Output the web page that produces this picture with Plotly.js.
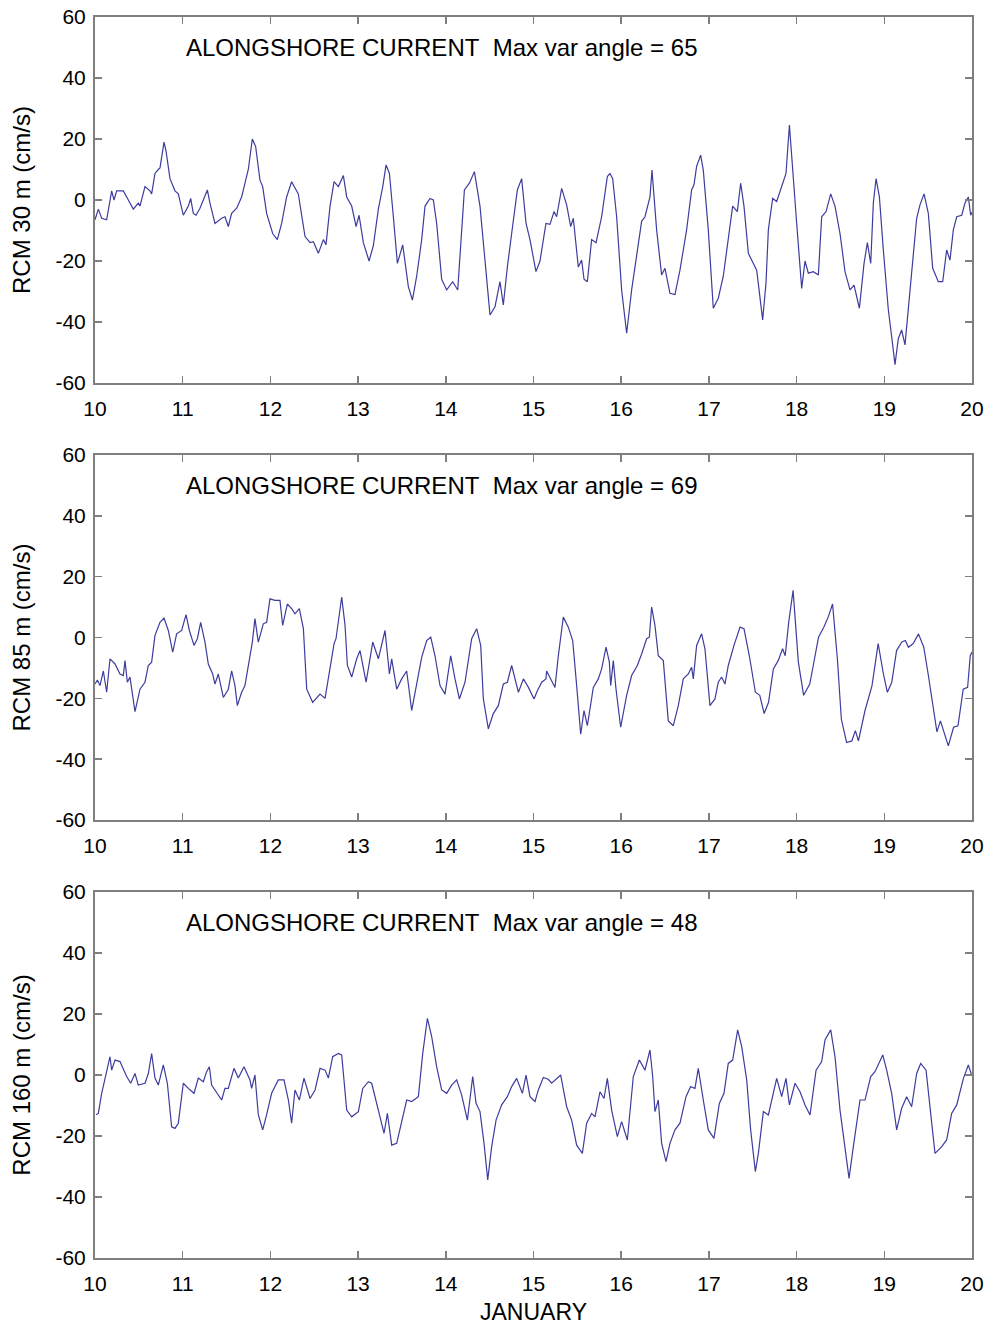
<!DOCTYPE html>
<html><head><meta charset="utf-8">
<script src="https://cdn.plot.ly/plotly-3.0.1.min.js"></script>
<style>body{margin:0;background:#fff}#chart{width:990px;height:1328px}</style>
</head><body><div id="chart"></div>
<script>
// Panel 1: RCM 30 m
const t1 = [10.00,10.038,10.076,10.133,10.19,10.217,10.247,10.323,10.38,10.437,10.494,10.513,10.57,10.627,10.646,10.684,10.722,10.741,10.787,10.81,10.855,10.912,10.95,11.007,11.064,11.091,11.121,11.152,11.197,11.281,11.311,11.368,11.444,11.482,11.52,11.558,11.615,11.672,11.71,11.748,11.794,11.832,11.881,11.912,11.957,12.026,12.079,12.128,12.185,12.242,12.318,12.395,12.452,12.49,12.547,12.604,12.634,12.68,12.726,12.775,12.832,12.87,12.927,12.977,13.011,13.06,13.125,13.174,13.231,13.281,13.319,13.357,13.402,13.448,13.509,13.535,13.573,13.619,13.668,13.725,13.763,13.82,13.858,13.896,13.953,14.01,14.079,14.136,14.212,14.269,14.326,14.39,14.447,14.504,14.561,14.618,14.656,14.702,14.751,14.816,14.865,14.915,14.96,15.028,15.074,15.142,15.188,15.234,15.264,15.321,15.378,15.424,15.454,15.511,15.549,15.576,15.614,15.663,15.713,15.777,15.842,15.872,15.903,15.948,16.005,16.062,16.119,16.184,16.233,16.271,16.328,16.351,16.374,16.404,16.461,16.499,16.556,16.613,16.67,16.746,16.803,16.83,16.86,16.906,16.936,16.993,17.05,17.107,17.164,17.221,17.271,17.324,17.362,17.40,17.45,17.507,17.545,17.613,17.651,17.678,17.727,17.773,17.83,17.879,17.918,17.956,18.001,18.058,18.096,18.134,18.191,18.248,18.286,18.336,18.389,18.438,18.495,18.552,18.609,18.655,18.716,18.769,18.807,18.845,18.875,18.906,18.944,18.989,19.046,19.084,19.122,19.16,19.198,19.236,19.293,19.331,19.369,19.407,19.453,19.502,19.552,19.616,19.666,19.711,19.749,19.787,19.826,19.883,19.92,19.958,19.985,20.0];
const v1 = [-6.5,-3,-6,-6.5,3,0,3,3,0,-3,-1,-2,4.4,3,2,8.7,10,10.5,19,16,7,3,2,-5,-2,0.5,-4.4,-5,-2.7,3.3,-1,-7.7,-6,-5.5,-8.7,-4.4,-2.7,1,5.5,10,20,17.5,6.5,4.4,-4.4,-11,-13,-7.7,1,6,2,-12,-14,-13.7,-17.5,-13,-14.7,-2,6,4.4,8,1,-2,-8.7,-5,-14,-20,-15,-3,4.4,11.5,8.7,-5.5,-20.8,-14.7,-20.8,-28.4,-32.8,-25,-13,-2,0.5,0,-7.7,-26,-29.5,-26.8,-29.5,3.3,5.5,9.3,-2,-18.6,-37.7,-35,-26.8,-34.4,-21.9,-11,3.3,7,-7.7,-13,-23.5,-20,-7.7,-8,-3.8,-5.5,3.8,-1.6,-8.7,-6,-22,-19.7,-26,-26.8,-13,-14,-5.5,7.7,8.7,7,-5.5,-29.5,-43.7,-29.5,-17,-7,-5.5,1,9.8,2,-9.8,-24.6,-22.4,-30.6,-31,-23,-9.8,3.3,5,11,14.7,9.8,-9.8,-35.5,-32.2,-25,-12,-2,-3.8,5.5,-2,-17.5,-20.8,-23,-39.3,-27.3,-9.8,0.5,-0.5,4.4,8.7,24.6,11,-7.7,-29,-20,-24,-23.5,-24.6,-5.5,-3.8,2,-2,-11,-23.5,-29.5,-27.9,-35.5,-20.8,-14,-20.8,-1,7,1,-16.4,-36,-44.8,-54,-45.4,-42.6,-47.5,-29.5,-16.4,-6,-1.6,2,-4.4,-22.4,-26.8,-26.8,-16.4,-19.7,-9.8,-5.5,-5,-1,1,-5,-4];

// Panel 2: RCM 85 m
const t2 = [10.0,10.027,10.057,10.095,10.133,10.171,10.228,10.285,10.323,10.342,10.369,10.399,10.456,10.513,10.57,10.608,10.646,10.684,10.741,10.787,10.836,10.886,10.931,10.988,11.038,11.076,11.129,11.167,11.205,11.254,11.292,11.342,11.368,11.406,11.463,11.52,11.558,11.596,11.623,11.672,11.71,11.729,11.767,11.794,11.824,11.862,11.919,11.957,11.995,12.052,12.109,12.14,12.193,12.242,12.28,12.33,12.376,12.414,12.482,12.566,12.623,12.68,12.726,12.748,12.813,12.851,12.878,12.927,12.984,13.022,13.091,13.167,13.231,13.307,13.357,13.383,13.44,13.497,13.554,13.611,13.668,13.725,13.782,13.828,13.877,13.934,13.991,14.056,14.105,14.155,14.219,14.295,14.352,14.398,14.428,14.485,14.542,14.599,14.656,14.702,14.751,14.828,14.885,14.942,15.006,15.044,15.093,15.142,15.15,15.188,15.245,15.283,15.34,15.397,15.447,15.492,15.538,15.576,15.614,15.682,15.739,15.777,15.827,15.865,15.88,15.91,15.941,15.994,16.062,16.119,16.184,16.233,16.29,16.321,16.347,16.385,16.423,16.48,16.537,16.594,16.651,16.708,16.765,16.803,16.822,16.86,16.917,16.955,17.012,17.069,17.107,17.145,17.183,17.221,17.286,17.355,17.40,17.461,17.53,17.58,17.63,17.68,17.735,17.79,17.84,17.87,17.91,17.96,17.98,18.02,18.08,18.15,18.19,18.25,18.31,18.36,18.41,18.465,18.51,18.57,18.63,18.67,18.705,18.78,18.86,18.89,18.93,18.99,19.035,19.085,19.14,19.20,19.24,19.275,19.33,19.39,19.45,19.50,19.55,19.60,19.64,19.68,19.73,19.79,19.84,19.90,19.95,19.98,20.0];
const v2 = [-15.3,-14,-15.8,-11,-18,-7,-8.7,-12,-12.5,-7.6,-14.7,-13,-24.4,-17,-14.7,-9.2,-8.1,0.7,5,6.4,2.3,-4.8,1.2,2.3,7.5,2.3,-2.6,-0.4,5,-1.5,-8.7,-12,-15.3,-12,-19.7,-17,-11,-15.8,-22.4,-18,-15.8,-12.5,-7,-1.5,6.2,-1.5,4.5,5,12.7,12.2,12.2,4,11,9.5,7.8,9.5,2.9,-17,-21.3,-18.6,-20,-10,-2,-0.4,13.3,4,-9.2,-13,-7,-4.3,-14.7,-1.5,-7,2.3,-12,-7,-17,-13.6,-11,-24,-15.8,-6.5,-1,0.1,-6,-15.8,-18.6,-6,-13.6,-20.2,-14.7,-0.4,2.9,-2.6,-20.2,-30,-25,-22.4,-15.3,-14.7,-9.2,-18,-13.6,-16.4,-20.2,-17.5,-14.7,-13.6,-11,-13,-16.4,-6,6.7,3.4,-1,-15.8,-31.8,-24,-29,-16.4,-13.6,-10.3,-3.2,-8.1,-15.8,-7.6,-17,-29.5,-19,-12.5,-9.2,-5.4,-0.4,0.1,10,4,-6,-7.6,-27.4,-29,-22.4,-13.6,-12,-9.8,-13.6,-2.6,1.2,-3.7,-22.4,-20.2,-14.7,-13,-15.3,-9.2,-2.6,3.4,2.9,-6,-18,-19,-25,-21.3,-10.3,-7.6,-3.7,-6,5,15.5,8.4,-8.1,-19,-15.3,-9.2,0.1,3.4,6.7,11,-7,-26.8,-34.5,-34,-30.6,-34,-24,-15.8,-9.2,-2,-12,-18,-14.7,-4.3,-1.5,-1,-3.2,-2,1.2,-3.2,-12,-22.4,-31,-27.4,-31,-35.6,-29.5,-29,-17,-16.4,-6,-4.8];

// Panel 3: RCM 160 m
const t3 = [10.011,10.038,10.076,10.133,10.171,10.19,10.228,10.285,10.361,10.407,10.456,10.494,10.57,10.608,10.646,10.684,10.722,10.779,10.825,10.874,10.912,10.95,11.007,11.064,11.129,11.178,11.235,11.273,11.304,11.33,11.368,11.444,11.482,11.52,11.585,11.634,11.699,11.767,11.786,11.824,11.862,11.912,11.957,12.014,12.09,12.155,12.205,12.242,12.28,12.33,12.383,12.452,12.509,12.566,12.623,12.661,12.71,12.775,12.813,12.87,12.927,13.003,13.053,13.117,13.155,13.212,13.269,13.296,13.334,13.383,13.44,13.497,13.554,13.611,13.687,13.737,13.79,13.839,13.896,13.953,14.01,14.067,14.124,14.181,14.246,14.307,14.345,14.39,14.436,14.478,14.523,14.573,14.637,14.702,14.751,14.808,14.873,14.915,14.96,15.017,15.055,15.112,15.169,15.207,15.264,15.31,15.378,15.435,15.492,15.557,15.606,15.663,15.701,15.758,15.804,15.842,15.891,15.956,16.005,16.07,16.138,16.207,16.271,16.328,16.359,16.385,16.423,16.461,16.511,16.556,16.613,16.67,16.739,16.792,16.841,16.879,16.936,16.993,17.058,17.119,17.172,17.221,17.271,17.328,17.374,17.431,17.476,17.53,17.564,17.621,17.678,17.716,17.773,17.83,17.879,17.918,17.982,18.039,18.096,18.153,18.222,18.286,18.324,18.389,18.438,18.495,18.552,18.598,18.647,18.723,18.78,18.845,18.894,18.982,19.027,19.084,19.141,19.198,19.255,19.312,19.369,19.415,19.476,19.521,19.578,19.655,19.711,19.768,19.826,19.902,19.958,19.996];
const v3 = [-13,-12.6,-6,1.6,6,1.6,4.9,4.4,-0.5,-2.7,0.5,-3.3,-2.7,0.5,7,-1,-3.3,3.3,-2.7,-17,-17.5,-15.8,-2.7,-4.4,-6,-1,-2.2,1.1,2.7,-3.3,-4.9,-8.2,-4.4,-4.4,2.2,-1,2.7,-1.6,-4.4,0,-13,-18,-13,-6,-1.6,-1.6,-8.2,-15.8,-4.9,-8.2,-1,-7.7,-4.9,2.2,1.6,-1,6,7.1,6.6,-11.5,-13.7,-12,-4.4,-2.2,-2.7,-9.3,-15.3,-19.1,-12.6,-23,-22.4,-15.3,-8.2,-8.7,-7.1,7.1,18.6,12.6,2.7,-4.9,-6,-3.3,-1.6,-6.6,-14.8,-0.5,-9.3,-12,-22.4,-34.4,-23.5,-14.8,-9.8,-7.1,-3.8,-1.1,-6,0,-7.1,-8.7,-4.9,-0.8,-1.4,-2.7,-1.1,0,-10.4,-14.8,-23,-25.7,-15.8,-12.6,-13.7,-5.5,-7.7,-1.1,-11.5,-20.2,-15.3,-21.3,-0.5,4.9,1.6,8.2,-0.5,-12,-8.2,-22.4,-28.4,-22.4,-18,-15.8,-7.1,-3.8,-4.4,2.2,-8.2,-18,-20.8,-9.3,-6,3.8,4.9,14.8,9.3,-1.6,-18,-31.7,-25.7,-12,-13.1,-8.2,-1.1,-7.1,-1.1,-9.8,-2.7,-5.5,-9.8,-13.1,1.6,4.4,11.5,14.8,6,-11.5,-24.6,-33.9,-23.5,-8.2,-8.2,-0.5,1.1,6.6,1.6,-6,-18,-10.9,-7.1,-10.4,0.5,3.8,1.6,-10.4,-25.7,-23.5,-21.3,-12.6,-9.8,-1.1,3.3,0];

const yTitles = ['RCM 30 m (cm/s)', 'RCM 85 m (cm/s)', 'RCM 160 m (cm/s)'];
const angles = [65, 69, 48];
const xTicks = [10,11,12,13,14,15,16,17,18,19,20];
const yTicks = [-60,-40,-20,0,20,40,60];

const FONT = 'Arial, "Liberation Sans", sans-serif';
const lineColor = '#3d3d9e';
const axisColor = '#7f7f7f';

const series = [[t1,v1],[t2,v2],[t3,v3]];
const traces = series.map((s,i)=>({
  x: s[0], y: s[1], type:'scatter', mode:'lines',
  line:{color:lineColor, width:1.2},
  xaxis: i===0?'x':'x'+(i+1), yaxis: i===0?'y':'y'+(i+1),
  showlegend:false, hoverinfo:'skip'
}));

const domains = [[0.7051,1.0],[0.3529,0.6471],[0.0,0.2949]];
const layout = {
  width:990, height:1328,
  margin:{l:95, r:18, t:17, b:70},
  paper_bgcolor:'#fff', plot_bgcolor:'#fff',
  font:{family:FONT, size:20, color:'#000'},
  annotations:[]
};
for (let i=0;i<3;i++){
  const sx = i===0?'':String(i+1);
  layout['xaxis'+sx] = {
    domain:[0,1], anchor:'y'+sx, range:[10,20],
    tickvals:xTicks, ticktext:xTicks.map(String),
    ticks:'inside', ticklen:7, tickcolor:axisColor, tickwidth:1.5,
    showline:true, linecolor:axisColor, linewidth:2, mirror:'ticks',
    showgrid:false, zeroline:false, ticklabelstandoff:6,
    tickfont:{family:FONT, size:21, color:'#000'},
    title: i===2 ? {text:'JANUARY', font:{family:FONT, size:23, color:'#000'}, standoff:10} : {text:''}
  };
  layout['yaxis'+sx] = {
    domain:domains[i], anchor:'x'+sx, range:[-60,60],
    tickvals:yTicks, ticktext:yTicks.map(String),
    ticks:'inside', ticklen:7, tickcolor:axisColor, tickwidth:1.5,
    showline:true, linecolor:axisColor, linewidth:2, mirror:'ticks',
    showgrid:false, zeroline:false, ticklabelstandoff:3,
    tickfont:{family:FONT, size:21, color:'#000'},
    title:{text:yTitles[i], font:{family:FONT, size:24, color:'#000'}, standoff:18}
  };
  layout.annotations.push({
    xref:'x'+sx, yref:'y'+sx, x:11.02, y:50, xanchor:'left', yanchor:'middle',
    text:'ALONGSHORE CURRENT\u00a0\u00a0Max var angle = '+angles[i],
    showarrow:false, font:{family:FONT, size:24, color:'#000'}
  });
}
Plotly.newPlot('chart', traces, layout, {staticPlot:true, displayModeBar:false});
</script></body></html>
